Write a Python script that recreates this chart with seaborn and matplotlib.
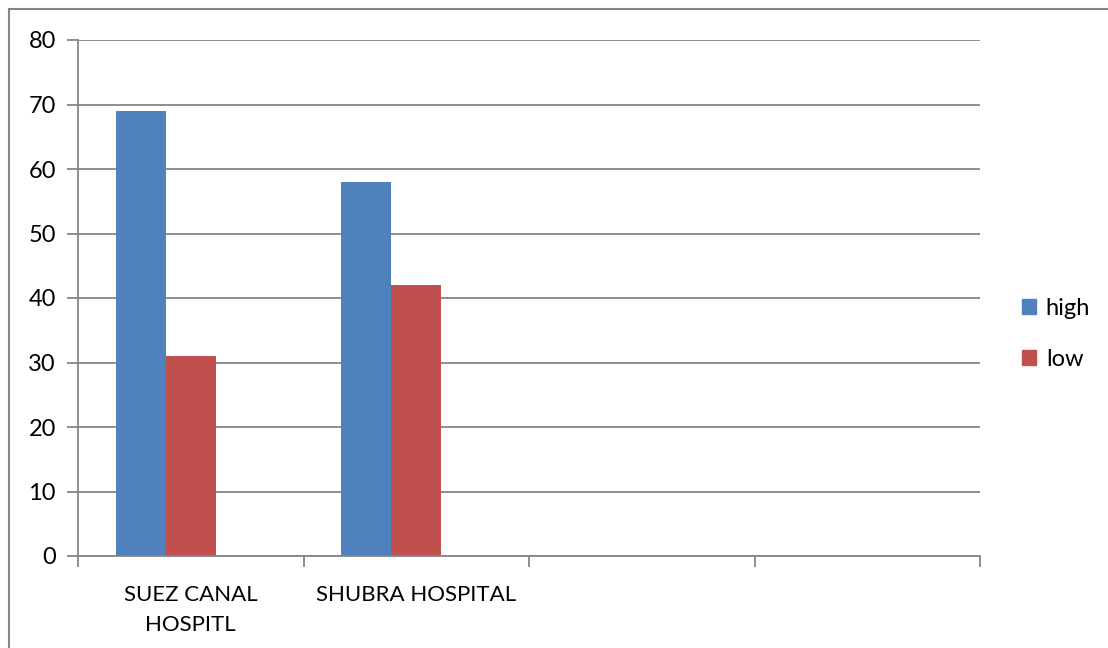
import matplotlib
matplotlib.use("Agg")
import matplotlib.pyplot as plt
import matplotlib.patches as mpatches
import numpy as np
import pandas as pd
import seaborn as sns

# data
hospitals = ["SUEZ CANAL\nHOSPITL", "SHUBRA HOSPITAL", "", " "]
levels = ["high", "low", "blank"]
high = [69, 58, np.nan, np.nan]
low = [31, 42, np.nan, np.nan]
blank = [np.nan, np.nan, np.nan, np.nan]
colors = ["#4F81BD", "#C0504D", "#9BBB59"]

df = pd.DataFrame({
    "hospital": hospitals * 3,
    "level": ["high"] * 4 + ["low"] * 4 + ["blank"] * 4,
    "value": high + low + blank,
})

sns.set_style("white")
plt.rcParams["font.family"] = ["Lato", "DejaVu Sans"]
plt.rcParams["text.color"] = "black"
plt.rcParams["xtick.color"] = "black"
plt.rcParams["ytick.color"] = "black"
grid_c = "#868686"

fig = plt.figure(figsize=(11.08, 6.48), dpi=100)
ax = fig.add_axes([78 / 1108, 1 - 556 / 648, (980 - 78) / 1108, (556 - 40) / 648])

sns.barplot(data=df.dropna(), x="hospital", y="value", hue="level",
            order=hospitals, hue_order=levels, palette=colors,
            width=0.667, saturation=1, ax=ax, legend=False,
            edgecolor="none", linewidth=0)

ax.set_xlim(-0.5, 3.5)
ax.set_ylim(0, 80)
ax.set_yticks(range(0, 81, 10))
ax.yaxis.grid(True, color=grid_c, linewidth=1.3)
ax.set_axisbelow(True)
ax.set_xlabel("")
ax.set_ylabel("")

for s in ["top", "right"]:
    ax.spines[s].set_visible(False)
for s in ["left", "bottom"]:
    ax.spines[s].set_color(grid_c)
    ax.spines[s].set_linewidth(1.3)

# ticks on slot boundaries, labels at slot centres
ax.set_xticks(np.arange(-0.5, 3.6, 1.0))
ax.set_xticklabels([])
ax.set_xticks(range(len(hospitals)), minor=True)
ax.set_xticklabels(hospitals, minor=True, fontsize=16, linespacing=1.6)
ax.tick_params(axis="x", which="major", bottom=True, direction="out", length=8,
               color=grid_c, width=1.3)
ax.tick_params(axis="x", which="minor", bottom=True, length=0, pad=21)
ax.tick_params(axis="y", left=True, direction="out", length=8, color=grid_c,
               width=1.3, labelsize=17, pad=8)

handles = [mpatches.Patch(color=colors[0], label="high"),
           mpatches.Patch(color=colors[1], label="low")]
fig.legend(handles=handles, loc="center left", bbox_to_anchor=(1001 / 1108, 1 - 334 / 648),
           frameon=False, fontsize=17, handlelength=0.6, handleheight=0.6,
           handletextpad=0.4, labelspacing=1.25)

# outer chart frame
fig.patches.append(mpatches.Rectangle((9 / 1108, -0.1), 1.2, 1 - 9 / 648 + 0.1,
                                      transform=fig.transFigure, fill=False,
                                      edgecolor=grid_c, linewidth=1.5))

fig.savefig("out.png", dpi=100)
